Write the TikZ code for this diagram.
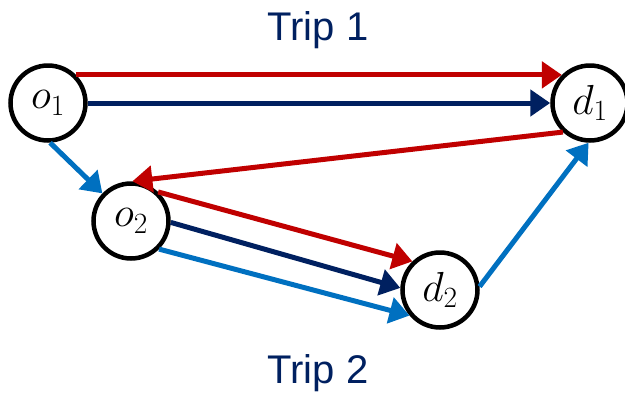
\RequirePackage{fix-cm}
\documentclass[tikz,border=0pt]{standalone}
\usepackage{fontspec}
\setmainfont{Liberation Sans}
\usetikzlibrary{arrows.meta}

\definecolor{tripred}{HTML}{C00000}
\definecolor{tripnavy}{HTML}{002060}
\definecolor{tripblue}{HTML}{0070C0}

\begin{document}
\begin{tikzpicture}[
    x=1pt, y=-1pt,
    stop/.style={circle, draw=black, line width=4.5pt, fill=white,
        minimum size=75pt, inner sep=0pt, font=\fontsize{42}{44}\selectfont},
    leg/.style={line width=5pt, -{Triangle[length=20pt,width=26pt]}},
    title/.style={text=tripnavy, font=\fontsize{40}{44}\selectfont}
]
\useasboundingbox (0,0) rectangle (625,397);

% Helper macro for the node text, set a little below centre
\newcommand{\stoplabel}[2]{\raisebox{-6pt}{$#1_{#2}$}}

% Stops
\node[stop] (o1) at (48,103) {\stoplabel{o}{1}};
\node[stop] (d1) at (590,103) {\stoplabel{d}{1}};
\node[stop] (o2) at (131,221) {\stoplabel{o}{2}};
\node[stop] (d2) at (440,290) {\stoplabel{d}{2}};

% Titles
\node[title] (trip1) at (318,30) {Trip 1};
\node[title] (trip2) at (318,373) {Trip 2};

% Red route
\draw[leg, tripred] (o1.45) -- (d1.135);
\draw[leg, tripred] (d1.227) -- (o2.88);
\draw[leg, tripred] (o2.47) -- (d2.134);

% Navy route
\draw[leg, tripnavy] (o1.east) -- (d1.west);
\draw[leg, tripnavy] (o2.358) -- (d2.177);

% Light blue route
\draw[leg, tripblue] (o1.273) -- (o2.136);
\draw[leg, tripblue] (o2.315) -- (d2.220);
\draw[leg, tripblue] (d2.5) -- (d1.268);

\end{tikzpicture}
\end{document}
